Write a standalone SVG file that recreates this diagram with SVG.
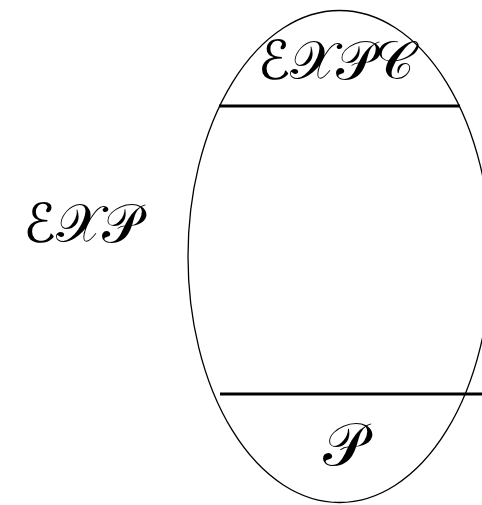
<svg xmlns="http://www.w3.org/2000/svg" width="482" height="505" viewBox="0 0 482 505">
<style>
.lbl{font-family:"DejaVu Serif","DejaVu Sans","Noto Sans",serif;fill:#000;}
.sep{stroke:#000;stroke-width:3;}
</style>
<rect width="482" height="505" fill="#fff"/>
<g id="exp-label">
<text class="lbl" x="82" y="242" font-size="54" text-anchor="middle">ℰ𝒳𝒫</text>
</g>
<g id="set-exp">
<ellipse cx="339.5" cy="256.5" rx="151.5" ry="246" fill="none" stroke="#000" stroke-width="1.3"/>
</g>
<g id="connectors">
<line class="sep" x1="219" y1="106" x2="460" y2="106"/>
<line class="sep" x1="220" y1="394" x2="482" y2="394"/>
</g>
<g id="expc">
<text class="lbl" x="336" y="79" font-size="54" text-anchor="middle">ℰ𝒳𝒫𝒞</text>
</g>
<g id="p">
<text class="lbl" x="344" y="465" font-size="60" text-anchor="middle">𝒫</text>
</g>
</svg>
